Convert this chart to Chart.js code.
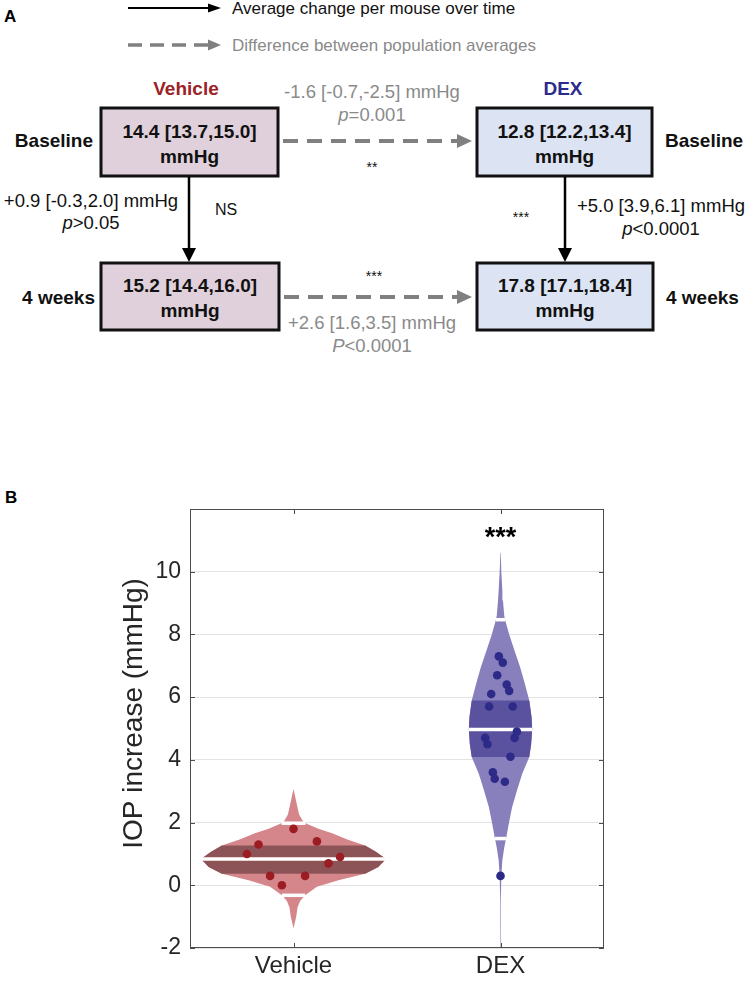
<!DOCTYPE html>
<html>
<head>
<meta charset="utf-8">
<script src="https://cdn.jsdelivr.net/npm/chart.js@4.4.0/dist/chart.umd.min.js"></script>
<style>
  body { margin: 0; background: #fff; font-family: "Liberation Sans", Arial, sans-serif; }
  #page { position: relative; width: 747px; height: 985px; overflow: hidden; }
  .panel { position: absolute; font-weight: bold; font-size: 17px; }
  #diagram { position: absolute; left: 0; top: 0; }
  #violinBox { position: absolute; left: 0; top: 470px; width: 747px; height: 515px; }
</style>
</head>
<body>
<div id="page">
  <!-- panel A: schematic -->
  <svg id="diagram" width="747" height="360" font-family="Liberation Sans, Arial, sans-serif">
    <text x="4" y="22" font-size="17" font-weight="bold">A</text>

    <line x1="128" y1="8" x2="209" y2="8" stroke="#000" stroke-width="2.2"/>
    <polygon points="208,3.5 221,8 208,12.5" fill="#000"/>
    <text x="232" y="14" font-size="17" fill="#111">Average change per mouse over time</text>
    <line x1="128" y1="45" x2="208" y2="45" stroke="#808080" stroke-width="3.5" stroke-dasharray="14 8"/>
    <polygon points="208,39.5 221,45 208,50.5" fill="#808080"/>
    <text x="232" y="51" font-size="17" fill="#8a8a8a">Difference between population averages</text>

    <text x="186" y="95" text-anchor="middle" font-size="19" font-weight="bold" fill="#9b2226">Vehicle</text>
    <text x="563" y="95" text-anchor="middle" font-size="19" font-weight="bold" fill="#2b2b8c">DEX</text>

    <text x="372" y="98" text-anchor="middle" font-size="18.5" fill="#8a8a8a">-1.6 [-0.7,-2.5] mmHg</text>
    <text x="372" y="121" text-anchor="middle" font-size="18.5" fill="#8a8a8a"><tspan font-style="italic">p</tspan>=0.001</text>

    <rect x="101" y="108" width="177" height="68" fill="#dfd0db" stroke="#111" stroke-width="3"/>
    <rect x="477" y="108" width="175" height="68" fill="#dce3f2" stroke="#111" stroke-width="3"/>
    <rect x="101" y="263" width="178" height="67" fill="#dfd0db" stroke="#111" stroke-width="3"/>
    <rect x="477" y="263" width="176" height="67" fill="#dce3f2" stroke="#111" stroke-width="3"/>

    <g font-size="19" font-weight="bold" text-anchor="middle" fill="#111">
      <text x="189.5" y="138">14.4 [13.7,15.0]</text>
      <text x="189.5" y="163">mmHg</text>
      <text x="564.5" y="138">12.8 [12.2,13.4]</text>
      <text x="564.5" y="163">mmHg</text>
      <text x="190" y="292">15.2 [14.4,16.0]</text>
      <text x="190" y="317">mmHg</text>
      <text x="565" y="292">17.8 [17.1,18.4]</text>
      <text x="565" y="317">mmHg</text>
    </g>

    <g font-size="19" font-weight="bold" fill="#111">
      <text x="93" y="147" text-anchor="end">Baseline</text>
      <text x="665" y="147">Baseline</text>
      <text x="95" y="304" text-anchor="end">4 weeks</text>
      <text x="666" y="304">4 weeks</text>
    </g>

    <line x1="283" y1="141" x2="458" y2="141" stroke="#808080" stroke-width="4" stroke-dasharray="15 9"/>
    <polygon points="457,134 472,141 457,148" fill="#808080"/>
    <line x1="284" y1="297" x2="458" y2="297" stroke="#808080" stroke-width="4" stroke-dasharray="15 9"/>
    <polygon points="457,290 472,297 457,304" fill="#808080"/>

    <line x1="189" y1="177" x2="189" y2="250" stroke="#000" stroke-width="2.5"/>
    <polygon points="182,248 189,262 196,248" fill="#000"/>
    <line x1="565" y1="177" x2="565" y2="250" stroke="#000" stroke-width="2.5"/>
    <polygon points="558,248 565,262 572,248" fill="#000"/>

    <g font-size="18.5" text-anchor="middle" fill="#111">
      <text x="91" y="207">+0.9 [-0.3,2.0] mmHg</text>
      <text x="91" y="229"><tspan font-style="italic">p</tspan>&gt;0.05</text>
      <text x="661" y="212">+5.0 [3.9,6.1] mmHg</text>
      <text x="661" y="235"><tspan font-style="italic">p</tspan>&lt;0.0001</text>
    </g>
    <text x="226" y="215" text-anchor="middle" font-size="16" fill="#111">NS</text>
    <text x="372" y="172" text-anchor="middle" font-size="14" fill="#111">**</text>
    <text x="521" y="222" text-anchor="middle" font-size="14" fill="#111">***</text>
    <text x="374" y="281" text-anchor="middle" font-size="14" fill="#111">***</text>

    <text x="372" y="329" text-anchor="middle" font-size="18.5" fill="#8a8a8a">+2.6 [1.6,3.5] mmHg</text>
    <text x="372" y="352" text-anchor="middle" font-size="18.5" fill="#8a8a8a"><tspan font-style="italic">P</tspan>&lt;0.0001</text>
  </svg>

  <div class="panel" style="left:5px; top:488px">B</div>
  <div id="violinBox"><canvas id="iopViolin"></canvas></div>
</div>

<script>
// panel B data
const groups = ['Vehicle', 'DEX'];
const yTicks = [-2, 0, 2, 4, 6, 8, 10];

const vehicleIOP = [1.0, 1.3, 0.3, 0.0, 1.8, 0.3, 1.4, 0.7, 0.9];
const vehicleJitter = [-0.225, -0.169, -0.113, -0.056, 0, 0.056, 0.113, 0.169, 0.225];
const dexIOP = [7.3, 7.1, 6.7, 6.4, 6.2, 6.1, 5.7, 5.7, 4.9, 4.7, 4.7, 4.5, 4.1, 3.6, 3.4, 3.3, 0.3];
const dexJitter = [-0.008, 0.011, -0.016, 0.03, 0.042, -0.045, -0.055, 0.059, 0.079, 0.068, -0.074, -0.063, 0.048, -0.037, -0.028, 0.021, 0];

// violin outline: IOP level and half width (in category units)
const vehicleKdeY = [-1.37, -1.0, -0.69, -0.5, -0.32, -0.05, 0.16, 0.37, 0.58, 0.84, 1.06, 1.27, 1.46, 1.65, 1.8, 1.98, 2.05, 2.26, 2.7, 3.08];
const vehicleKdeW = [0, 0.013, 0.02, 0.032, 0.056, 0.113, 0.217, 0.346, 0.41, 0.447, 0.40, 0.346, 0.26, 0.19, 0.12, 0.058, 0.045, 0.027, 0.012, 0];
const dexKdeY = [-2.0, -0.5, 0.3, 0.8, 1.2, 1.49, 1.96, 2.49, 3.03, 3.56, 4.09, 4.5, 4.97, 5.36, 5.89, 6.42, 6.95, 7.48, 8.0, 8.47, 8.6, 9.08, 9.4, 10.0, 10.6, 12.0];
const dexKdeW = [0.001, 0.0015, 0.004, 0.009, 0.018, 0.027, 0.04, 0.056, 0.08, 0.105, 0.139, 0.148, 0.153, 0.15, 0.139, 0.118, 0.095, 0.068, 0.042, 0.022, 0.018, 0.012, 0.009, 0.004, 0.0015, 0.0005];

// lower line, lower band edge, median, upper band edge, upper line
const vehicleStats = [-0.32, 0.37, 0.84, 1.27, 1.98];
const dexStats = [1.49, 4.09, 4.97, 5.89, 8.47];

Chart.defaults.font.family = '"Liberation Sans", Arial, sans-serif';

function outline(c, ys, ws, from, to) {
    var right = [], left = [];
    for (var i = from; i <= to; i++) {
        right.push({x: c + ws[i], y: ys[i]});
        left.unshift({x: c - ws[i], y: ys[i]});
    }
    return right.concat(left);
}

function whiteLine(c, ys, ws, v) {
    var i = ys.indexOf(v);
    return [{x: c - ws[i], y: v}, {x: c + ws[i], y: v}];
}

function violinSets(c, ys, ws, stats, light, dark) {
    var sets = [];
    sets.push({data: outline(c, ys, ws, 0, ys.length - 1), backgroundColor: light, borderColor: 'rgba(0,0,0,0)',
        borderWidth: 0, fill: 'shape', pointRadius: 0, tension: 0, order: 3});
    sets.push({data: outline(c, ys, ws, ys.indexOf(stats[1]), ys.indexOf(stats[3])), backgroundColor: dark,
        borderColor: 'rgba(0,0,0,0)', borderWidth: 0, fill: 'shape', pointRadius: 0, tension: 0, order: 2});
    [stats[0], stats[2], stats[4]].forEach(function (v) {
        sets.push({data: whiteLine(c, ys, ws, v), borderColor: '#ffffff', borderWidth: 3.5, fill: false,
            pointRadius: 0, tension: 0, order: 1});
    });
    return sets;
}

function pointSet(c, values, jitter, color) {
    return {
        data: values.map(function (v, i) { return {x: c + jitter[i], y: v}; }),
        showLine: false, pointRadius: 4.3, pointHoverRadius: 4.3, pointBorderWidth: 0,
        pointBackgroundColor: color, order: 0
    };
}

const frame = {
    id: 'frame',
    afterDraw(chart) {
        const ctx = chart.ctx, a = chart.chartArea, x = chart.scales.x, y = chart.scales.y;
        ctx.save();
        ctx.strokeStyle = '#4d4d4d';
        ctx.lineWidth = 1;
        ctx.strokeRect(Math.round(a.left) + 0.5, Math.round(a.top) + 0.5,
            Math.round(a.right - a.left) - 1, Math.round(a.bottom - a.top) - 1);
        ctx.beginPath();
        yTicks.forEach(function (v) {
            var py = Math.round(y.getPixelForValue(v)) + 0.5;
            ctx.moveTo(a.left, py); ctx.lineTo(a.left + 5, py);
            ctx.moveTo(a.right - 5, py); ctx.lineTo(a.right, py);
        });
        [1, 2].forEach(function (v) {
            var px = Math.round(x.getPixelForValue(v)) + 0.5;
            ctx.moveTo(px, a.top); ctx.lineTo(px, a.top + 5);
            ctx.moveTo(px, a.bottom); ctx.lineTo(px, a.bottom - 5);
        });
        ctx.stroke();

        // y title
        ctx.fillStyle = '#262626';
        ctx.font = '28px "Liberation Sans", Arial, sans-serif';
        ctx.textAlign = 'center';
        ctx.textBaseline = 'middle';
        ctx.translate(a.left - 56, (a.top + a.bottom) / 2 - 15);
        ctx.rotate(-Math.PI / 2);
        ctx.fillText('IOP increase (mmHg)', 0, 0);
        ctx.restore();

        // significance
        ctx.save();
        ctx.fillStyle = '#000';
        ctx.font = 'bold 27px "Liberation Sans", Arial, sans-serif';
        ctx.textAlign = 'center';
        ctx.textBaseline = 'alphabetic';
        ctx.fillText('***', x.getPixelForValue(2), y.getPixelForValue(11.3) + 15);
        ctx.restore();
    }
};

document.addEventListener("DOMContentLoaded", function () {
    var datasets = [
        pointSet(1, vehicleIOP, vehicleJitter, '#9c1c24'),
        pointSet(2, dexIOP, dexJitter, '#2e2a87')
    ].concat(
        violinSets(1, vehicleKdeY, vehicleKdeW, vehicleStats, '#d5868a', '#8c5457'),
        violinSets(2, dexKdeY, dexKdeW, dexStats, '#8780bc', '#5a529f')
    );

    new Chart("iopViolin", {
        type: "line",
        data: {datasets: datasets},
        plugins: [frame],
        options: {
            responsive: true,
            maintainAspectRatio: false,
            animation: false,
            events: [],
            layout: {padding: {left: 0, right: 143, top: 39, bottom: 0}},
            plugins: {legend: {display: false}, tooltip: {enabled: false}},
            scales: {
                x: {
                    type: 'linear', min: 0.5, max: 2.5,
                    afterBuildTicks: function (s) { s.ticks = [{value: 1}, {value: 2}]; },
                    afterFit: function (s) { s.height = 37; },
                    grid: {display: false, drawTicks: false},
                    border: {display: false},
                    ticks: {
                        padding: 4, autoSkip: false, maxRotation: 0, color: '#262626', font: {size: 24},
                        callback: function (v) { return groups[v - 1]; }
                    }
                },
                y: {
                    type: 'linear', min: -2, max: 12,
                    afterBuildTicks: function (s) { s.ticks = yTicks.map(function (v) { return {value: v}; }); },
                    afterFit: function (s) { s.width = 190; },
                    grid: {color: '#e3e3e3', drawTicks: false},
                    border: {display: false},
                    ticks: {padding: 9, color: '#262626', font: {size: 23}}
                }
            }
        }
    });
});
</script>
</body>
</html>
